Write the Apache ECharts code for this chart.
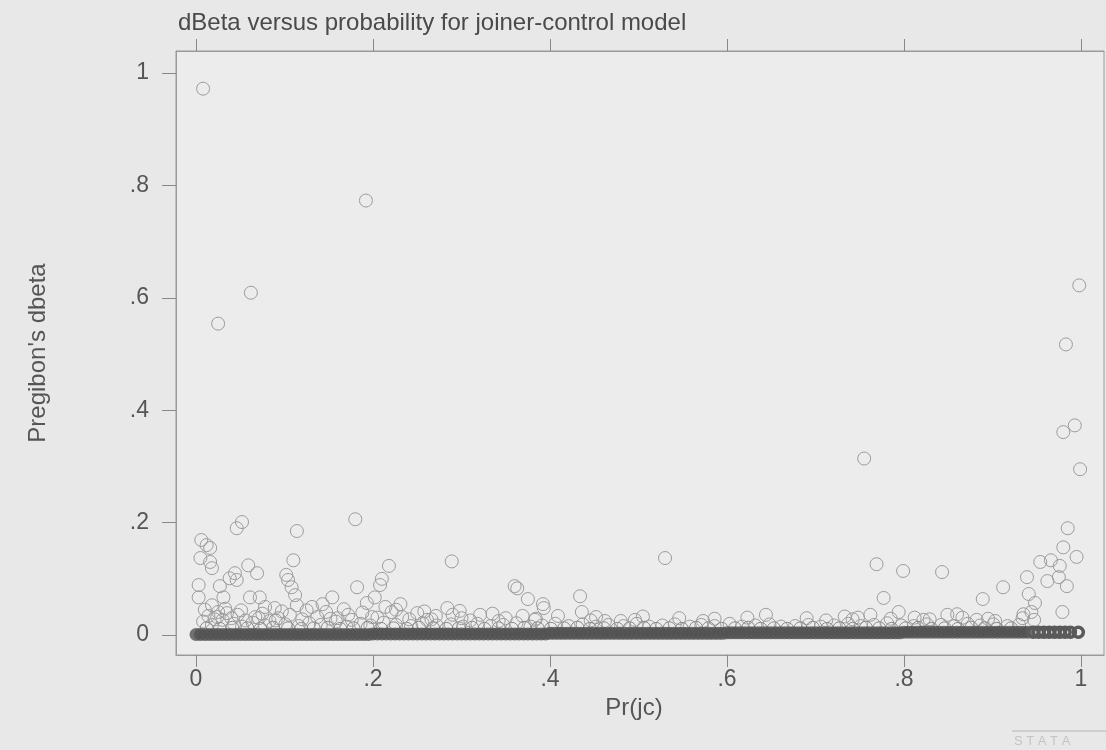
<!DOCTYPE html>
<html>
<head>
<meta charset="utf-8">
<script src="https://cdn.jsdelivr.net/npm/echarts@6/dist/echarts.min.js"></script>
<style>
html,body{margin:0;padding:0;background:#e8e8e8;}
#chart{width:1106px;height:750px;}
</style>
</head>
<body>
<div id="chart"></div>
<script>
// ---- data ----
const titleText = "dBeta versus probability for joiner-control model";
const xName = "Pr(jc)";
const yName = "Pregibon's dbeta";
const xTickValues = [0, 0.2, 0.4, 0.6, 0.8, 1];
const xTickLabels = ["0", ".2", ".4", ".6", ".8", "1"];
const yTickValues = [0, 0.2, 0.4, 0.6, 0.8, 1];
const yTickLabels = ["0", ".2", ".4", ".6", ".8", "1"];

// dense mass of near-zero dbeta values (overlapping so much it looks solid)
const bandX = [
 0.000,0.005,0.010,0.015,0.020,0.025,0.030,0.035,0.040,0.045,0.050,0.055,0.060,0.065,0.070,0.075,0.080,0.085,0.090,0.095,
 0.100,0.105,0.110,0.115,0.120,0.125,0.130,0.135,0.140,0.145,0.150,0.155,0.160,0.165,0.170,0.175,0.180,0.185,0.190,0.195,
 0.200,0.205,0.210,0.215,0.220,0.225,0.230,0.235,0.240,0.245,0.250,0.255,0.260,0.265,0.270,0.275,0.280,0.285,0.290,0.295,
 0.300,0.305,0.310,0.315,0.320,0.325,0.330,0.335,0.340,0.345,0.350,0.355,0.360,0.365,0.370,0.375,0.380,0.385,0.390,0.395,
 0.400,0.405,0.410,0.415,0.420,0.425,0.430,0.435,0.440,0.445,0.450,0.455,0.460,0.465,0.470,0.475,0.480,0.485,0.490,0.495,
 0.500,0.505,0.510,0.515,0.520,0.525,0.530,0.535,0.540,0.545,0.550,0.555,0.560,0.565,0.570,0.575,0.580,0.585,0.590,0.595,
 0.600,0.605,0.610,0.615,0.620,0.625,0.630,0.635,0.640,0.645,0.650,0.655,0.660,0.665,0.670,0.675,0.680,0.685,0.690,0.695,
 0.700,0.705,0.710,0.715,0.720,0.725,0.730,0.735,0.740,0.745,0.750,0.755,0.760,0.765,0.770,0.775,0.780,0.785,0.790,0.795,
 0.800,0.805,0.810,0.815,0.820,0.825,0.830,0.835,0.840,0.845,0.850,0.855,0.860,0.865,0.870,0.875,0.880,0.885,0.890,0.895,
 0.900,0.905,0.910,0.915,0.920,0.925,0.930,0.935,0.940
];
const bandY = [
 0.001,0.001,0.001,0.001,0.001,0.001,0.001,0.001,0.001,0.001,0.001,0.001,0.001,0.001,0.001,0.001,0.001,0.001,0.001,0.001,
 0.001,0.001,0.001,0.001,0.001,0.001,0.001,0.001,0.001,0.001,0.001,0.001,0.001,0.001,0.001,0.001,0.001,0.001,0.001,0.001,
 0.002,0.002,0.002,0.002,0.002,0.002,0.002,0.002,0.002,0.002,0.002,0.002,0.002,0.002,0.002,0.002,0.002,0.002,0.002,0.002,
 0.002,0.002,0.002,0.002,0.002,0.002,0.002,0.002,0.002,0.002,0.002,0.002,0.002,0.002,0.002,0.002,0.002,0.002,0.002,0.002,
 0.003,0.003,0.003,0.003,0.003,0.003,0.003,0.003,0.003,0.003,0.003,0.003,0.003,0.003,0.003,0.003,0.003,0.003,0.003,0.003,
 0.003,0.003,0.003,0.003,0.003,0.003,0.003,0.003,0.003,0.003,0.003,0.003,0.003,0.003,0.003,0.003,0.003,0.003,0.003,0.003,
 0.004,0.004,0.004,0.004,0.004,0.004,0.004,0.004,0.004,0.004,0.004,0.004,0.004,0.004,0.004,0.004,0.004,0.004,0.004,0.004,
 0.004,0.004,0.004,0.004,0.004,0.004,0.004,0.004,0.004,0.004,0.004,0.004,0.004,0.004,0.004,0.004,0.004,0.004,0.004,0.004,
 0.005,0.005,0.005,0.005,0.005,0.005,0.005,0.005,0.005,0.005,0.005,0.005,0.005,0.005,0.005,0.005,0.005,0.005,0.005,0.005,
 0.005,0.005,0.005,0.005,0.005,0.005,0.005,0.005,0.005
];
// the band thins out into separate rings near Pr = 1
const bandEndX = [0.946,0.952,0.958,0.964,0.970,0.976,0.982,0.988,0.997];
const bandEndY = [0.005,0.005,0.005,0.005,0.005,0.005,0.005,0.005,0.005];

// crowd of small values hugging the band
const lowRowX = [0.012,0.027,0.041,0.058,0.073,0.087,0.104,0.119,0.133,0.149,0.163,0.178,0.194,0.209,0.223,0.238,0.252,0.268,0.283,0.297,
 0.312,0.326,0.342,0.357,0.371,0.386,0.401,0.416,0.431,0.445,0.461,0.476,0.490,0.506,0.520,0.535,0.549,0.565,0.579,0.594,
 0.609,0.624,0.638,0.653,0.668,0.683,0.697,0.713,0.727,0.742,0.757,0.772,0.786,0.802,0.816,0.831,0.846,0.861,0.876,0.891,
 0.905,0.921];
const lowRowY = [0.012,0.011,0.013,0.012,0.011,0.013,0.012,0.011,0.012,0.013,0.011,0.012,0.013,0.011,0.012,0.011,0.013,0.012,0.011,0.012,
 0.013,0.011,0.012,0.011,0.013,0.012,0.011,0.012,0.013,0.011,0.012,0.011,0.012,0.013,0.011,0.012,0.011,0.013,0.012,0.011,
 0.012,0.013,0.011,0.012,0.011,0.012,0.013,0.011,0.012,0.011,0.013,0.012,0.011,0.012,0.013,0.011,0.012,0.011,0.013,0.012,
 0.011,0.012];
const fringeX = [0.008,0.018,0.030,0.043,0.052,0.064,0.078,0.090,0.101,0.116,0.128,0.141,0.158,0.170,0.186,0.197,0.212,0.226,0.243,0.256,
 0.272,0.288,0.302,0.318,0.333,0.347,0.362,0.378,0.391,0.406,0.421,0.437,0.452,0.466,0.483,0.498,0.512,0.527,0.541,0.558,
 0.571,0.586,0.603,0.617,0.632,0.648,0.661,0.677,0.692,0.706,0.721,0.737,0.751,0.766,0.781,0.797,0.811,0.826,0.842,0.857,
 0.872,0.886,0.901,0.917,0.930,0.024,0.071,0.152,0.205,0.266,0.383,0.446,0.573,0.712,0.742,0.822,
 0.010,0.014,0.021,0.033,0.040,0.051,0.056,0.075,0.083,0.097,0.106,0.120,0.131,0.147,0.160,0.167,0.176,0.188,0.199,0.226,
 0.241,0.258,0.271,0.298,0.310,0.335,0.342,0.369,0.384,0.409,0.452,0.505,0.546,0.586,0.623,0.690,0.733,0.748,0.785,0.812,
 0.829,0.866,0.895];
const fringeY = [0.024,0.018,0.027,0.020,0.015,0.022,0.017,0.026,0.019,0.016,0.021,0.018,0.024,0.015,0.020,0.017,0.022,0.018,0.016,0.021,
 0.017,0.019,0.015,0.020,0.016,0.018,0.021,0.015,0.017,0.020,0.016,0.019,0.015,0.018,0.016,0.020,0.015,0.017,0.019,0.015,
 0.018,0.016,0.020,0.015,0.017,0.019,0.015,0.016,0.018,0.015,0.017,0.020,0.016,0.018,0.021,0.017,0.016,0.019,0.018,0.016,
 0.020,0.017,0.019,0.016,0.018,0.032,0.030,0.029,0.031,0.028,0.027,0.026,0.025,0.026,0.028,0.027,
 0.045,0.034,0.028,0.047,0.030,0.044,0.026,0.038,0.025,0.042,0.036,0.028,0.050,0.041,0.030,0.046,0.027,0.040,0.032,0.045,
 0.028,0.042,0.034,0.043,0.026,0.038,0.025,0.034,0.029,0.034,0.032,0.033,0.030,0.029,0.031,0.030,0.033,0.031,0.029,0.031,
 0.028,0.031,0.029];

// individually visible circles
const outX = [0.008,0.192,0.062,0.025,0.998,0.983,0.993,0.980,0.999,0.755,0.530,
 0.052,0.046,0.114,0.180,0.006,0.012,0.016,0.005,0.016,0.018,0.110,0.102,0.104,0.108,0.112,0.218,0.289,0.059,0.069,
 0.044,0.038,0.046,0.027,0.003,0.003,0.031,0.061,0.072,0.182,0.208,0.210,0.154,0.143,0.018,0.078,0.089,0.114,0.125,0.193,
 0.202,0.214,0.231,0.221,0.233,0.250,0.284,0.290,0.321,0.261,0.172,0.137,0.047,0.035,0.067,0.093,0.025,
 0.363,0.360,0.375,0.392,0.434,0.436,0.393,0.480,0.496,0.462,0.644,0.350,0.300,
 0.985,0.980,0.995,0.954,0.966,0.976,0.962,0.975,0.984,0.939,0.941,0.948,0.935,0.944,0.979,0.912,0.889,0.843,0.799,0.769,
 0.777,0.794,0.762,0.849,0.860,0.882,0.903,0.934,0.947];
const outY = [0.972,0.773,0.609,0.554,0.622,0.517,0.373,0.361,0.295,0.314,0.137,
 0.201,0.190,0.185,0.206,0.169,0.160,0.155,0.137,0.130,0.119,0.133,0.107,0.098,0.085,0.071,0.123,0.131,0.124,0.110,
 0.110,0.101,0.098,0.087,0.089,0.067,0.067,0.067,0.067,0.085,0.089,0.100,0.067,0.055,0.053,0.050,0.048,0.053,0.044,0.057,
 0.067,0.050,0.055,0.041,0.032,0.039,0.048,0.036,0.036,0.027,0.036,0.032,0.036,0.039,0.032,0.030,0.041,
 0.083,0.087,0.064,0.055,0.069,0.041,0.048,0.025,0.027,0.025,0.036,0.030,0.030,
 0.190,0.156,0.139,0.130,0.133,0.123,0.096,0.103,0.087,0.103,0.073,0.057,0.037,0.041,0.041,0.085,0.064,0.112,0.114,0.126,
 0.066,0.041,0.036,0.036,0.037,0.027,0.025,0.030,0.027];

// ---- chart ----
const zip = (a, b) => a.map((v, i) => [v, b[i]]);
const FONT = "'Liberation Sans', Arial, sans-serif";
const labelOf = (vals, labs) => v => { const i = vals.findIndex(t => Math.abs(t - v) < 1e-9); return i >= 0 ? labs[i] : ''; };
const ring = (c, w) => ({color: 'rgba(0,0,0,0)', borderColor: c, borderWidth: w, opacity: 1});

const chart = echarts.init(document.getElementById('chart'), null, {renderer: 'canvas'});
chart.setOption({
  backgroundColor: '#e8e8e8',
  animation: false,
  textStyle: {fontFamily: FONT},
  title: {
    text: titleText, left: 173, top: 6,
    textStyle: {fontFamily: FONT, fontSize: 24, fontWeight: 'normal', color: '#4a4a4a'}
  },
  grid: {left: 176, right: 2, top: 51, bottom: 95, show: true, backgroundColor: '#ececec', borderColor: '#9a9a9a', borderWidth: 1},
  xAxis: [{
    type: 'value', min: -0.0226, max: 1.026, position: 'bottom',
    name: xName, nameLocation: 'middle', nameGap: 40,
    nameTextStyle: {fontFamily: FONT, fontSize: 24, color: '#555', padding: [0, 12, 0, 0]},
    axisLine: {show: true, onZero: false, lineStyle: {color: '#9a9a9a'}},
    axisTick: {show: true, length: 12, inside: false, customValues: xTickValues, lineStyle: {color: '#888'}},
    axisLabel: {show: true, margin: 13, customValues: xTickValues, formatter: labelOf(xTickValues, xTickLabels),
      fontFamily: FONT, fontSize: 23, color: '#555'},
    splitLine: {show: false}
  }, {
    type: 'value', min: -0.0226, max: 1.026, position: 'top',
    axisLine: {show: true, onZero: false, lineStyle: {color: '#9a9a9a'}},
    axisTick: {show: true, length: 12, inside: false, customValues: xTickValues, lineStyle: {color: '#888'}},
    axisLabel: {show: false},
    splitLine: {show: false}
  }],
  yAxis: {
    type: 'value', min: -0.0355, max: 1.039,
    name: yName, nameLocation: 'middle', nameRotate: 90, nameGap: 126,
    nameTextStyle: {fontFamily: FONT, fontSize: 24, color: '#555'},
    axisLine: {show: true, onZero: false, lineStyle: {color: '#9a9a9a'}},
    axisTick: {show: true, length: 14, inside: false, customValues: yTickValues, lineStyle: {color: '#888'}},
    axisLabel: {show: true, margin: 27, customValues: yTickValues, formatter: labelOf(yTickValues, yTickLabels),
      fontFamily: FONT, fontSize: 23, color: '#555'},
    splitLine: {show: false}
  },
  series: [{
    type: 'scatter', name: 'fringe', data: zip(fringeX, fringeY),
    symbol: 'circle', symbolSize: 13, itemStyle: ring('#9c9c9c', 1)
  }, {
    type: 'scatter', name: 'lowRow', data: zip(lowRowX, lowRowY),
    symbol: 'circle', symbolSize: 13, itemStyle: ring('#8a8a8a', 1)
  }, {
    type: 'scatter', name: 'outliers', data: zip(outX, outY),
    symbol: 'circle', symbolSize: 13, itemStyle: ring('#9c9c9c', 1)
  }, {
    type: 'scatter', name: 'band', data: zip(bandX, bandY),
    symbol: 'circle', symbolSize: 13,
    itemStyle: {color: '#525252'}
  }, {
    type: 'scatter', name: 'bandEnd', data: zip(bandEndX, bandEndY),
    symbol: 'circle', symbolSize: 10, itemStyle: ring('#5a5a5a', 3.5)
  }],
  graphic: [{
    type: 'line', shape: {x1: 1012, y1: 731, x2: 1106, y2: 731},
    style: {stroke: '#b5b5b5', lineWidth: 1}
  }, {
    type: 'text', left: 1014, top: 735,
    style: {text: 'S T A T A', fontFamily: FONT, fontSize: 13, fill: '#c4c4c4'}
  }]
});
</script>
</body>
</html>
